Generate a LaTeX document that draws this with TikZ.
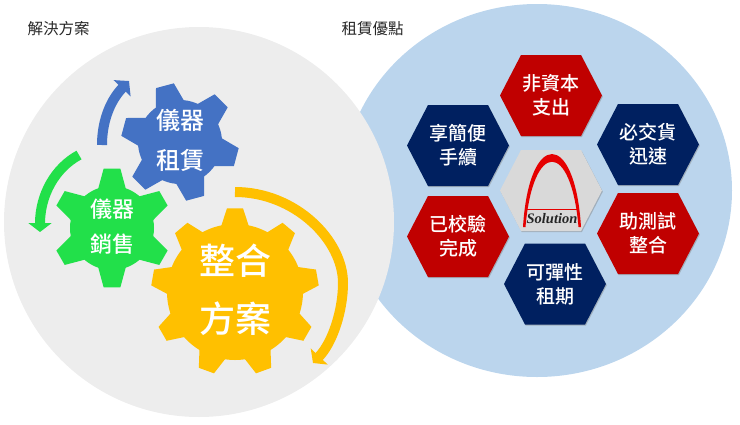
\documentclass[tikz,border=0pt]{standalone}
\usepackage{fontspec}
\setmainfont{Noto Sans CJK TC}[BoldFont={Noto Sans CJK TC Medium}]
\newfontfamily\logofont{Liberation Serif}
\usetikzlibrary{arrows.meta,shadows}
\definecolor{gearblue}{HTML}{4472C4}
\definecolor{geargreen}{HTML}{22E04A}
\definecolor{gearyellow}{HTML}{FFC000}
\definecolor{discgrey}{HTML}{EDEDED}
\definecolor{discblue}{HTML}{BBD5ED}
\definecolor{hexred}{HTML}{C00000}
\definecolor{hexnavy}{HTML}{002060}
\definecolor{hexgrey}{HTML}{D9D9D9}
\tikzset{
  headline/.style={font=\fontsize{15.5}{18}\selectfont,text=black!85},
  hexcell/.style={drop shadow={shadow xshift=0.8pt,shadow yshift=-1.2pt,opacity=.45}},
  hextext/.style={text=white,align=center,font=\fontsize{19}{24}\selectfont\bfseries},
  turn/.style={line width=10pt},
}
% gear: x, y, body radius, tip radius, base half angle, tip half angle, teeth angles, colour
\newcommand{\gearshape}[8]{
  \fill[#8] (#1,#2) circle [radius=#3];
  \foreach \a in {#7} {
    \fill[#8,shift={(#1,#2)}] (\a-#5:#3-1) -- (\a-#6:#4) -- (\a+#6:#4) -- (\a+#5:#3-1) -- cycle;
  }
}
% hexagon: x, y, colour
\newcommand{\hexshape}[3]{
  \fill[#3,hexcell,shift={(#1,#2)}] (-51,0) -- (-30,-40.5) -- (30,-40.5) -- (51,0) -- (30,40.5) -- (-30,40.5) -- cycle;
}
\begin{document}
\begin{tikzpicture}[x=1pt,y=-1pt]
\useasboundingbox (0,0) rectangle (740,424);
% Draw discs
\fill[discblue] (537,190.5) ellipse [x radius=195,y radius=186.5];
\fill[discgrey] (199,222) circle [radius=195];
% Headlines
\node[headline] (solutions) at (58.5,29) {解決方案};
\node[headline] (benefits) at (372.5,29) {租賃優點};
% Draw gears
\gearshape{180}{142}{42}{59}{21}{9}{15,75,135,195,255,315}{gearblue}
\gearshape{112}{228}{42}{60}{20}{8}{30,90,150,210,270,330}{geargreen}
\gearshape{235}{292}{68}{84}{12}{5.5}{270,310,350,30,70,110,150,190,230}{gearyellow}
\node[text=white,align=center,font=\fontsize{24}{40}\selectfont\bfseries] (rental) at (180,140) {儀器\\租賃};
\node[text=white,align=center,font=\fontsize{22}{35}\selectfont\bfseries] (sales) at (112,227) {儀器\\銷售};
\node[text=white,align=center,font=\fontsize{36}{58}\selectfont\bfseries] (total) at (235,290) {整合\\方案};
% Draw turning arrows
\coordinate (bluefrom) at (102,145);
\coordinate (blueto) at (129,81);
\coordinate (greenfrom) at (79,155);
\coordinate (greento) at (40,232);
\coordinate (yellowfrom) at (235,192);
\coordinate (yellowto) at (313,363);
\draw[turn,gearblue,-{Triangle[length=10pt,width=23pt]}] (bluefrom) .. controls (102,125) and (108,103) .. (blueto);
\draw[turn,geargreen,-{Triangle[length=9pt,width=23pt]}] (greenfrom) .. controls (55,168) and (40,195) .. (greento);
\draw[turn,gearyellow,-{Triangle[length=9pt,width=23pt]}] (yellowfrom) .. controls (295,192) and (343,240) .. (343,283) .. controls (343,310) and (333,342) .. (yellowto);
% Draw hexagons
\hexshape{551}{95.5}{hexred}
\hexshape{458}{145.5}{hexnavy}
\hexshape{648}{144.5}{hexnavy}
\hexshape{458}{236.5}{hexred}
\hexshape{648}{233.5}{hexred}
\hexshape{555}{284}{hexnavy}
\hexshape{551}{190.5}{hexgrey}
\node[hextext] (capex) at (551,95) {非資本\\支出};
\node[hextext] (delivery) at (648,144) {必交貨\\迅速};
\node[hextext] (testing) at (648,233) {助測試\\整合};
\node[hextext] (period) at (555,284) {可彈性\\租期};
\node[hextext] (calibrated) at (458,236) {已校驗\\完成};
\node[hextext] (procedure) at (458,145) {享簡便\\手續};
% Draw logo
\fill[red!90!black] (523,227) .. controls (529,129.7) and (575,129.7) .. (581,227) -- (578.5,227) .. controls (571,140) and (533,140) .. (525.5,227) -- cycle;
\fill[red!90!black] (526,208.5) rectangle (578,210);
\node[font=\logofont\itshape\bfseries\fontsize{14.5}{16}\selectfont,text=black!85] (logo) at (552,219) {Solution};
\end{tikzpicture}
\end{document}
